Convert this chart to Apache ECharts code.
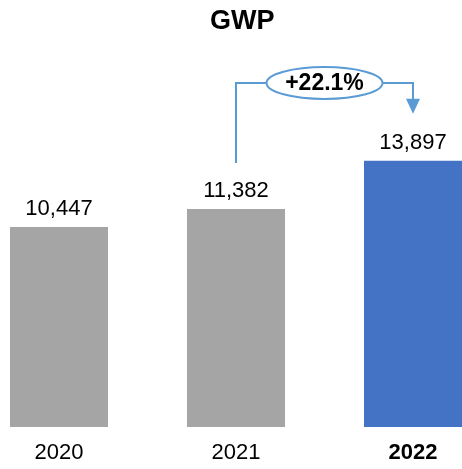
<!DOCTYPE html>
<html>
<head>
<meta charset="utf-8">
<script src="https://cdn.jsdelivr.net/npm/echarts@6/dist/echarts.min.js"></script>
<style>
  html, body { margin: 0; padding: 0; background: #fff; }
  #chart { width: 462px; height: 469px; }
</style>
</head>
<body>
<div id="chart"></div>
<script>
// 데이터
const years = ['2020', '2021', '2022'];
const gwp = [10447, 11382, 13897];
const barColors = ['#A5A5A5', '#A5A5A5', '#4472C4'];
const growthLabel = '+22.1%';

const FONT = '"Liberation Sans", Arial, sans-serif';
const LINE = '#5B9BD5';

const chart = echarts.init(document.getElementById('chart'));

const option = {
    animation: false,
    title: {
        text: 'GWP',
        left: 205,
        top: 3,
        textStyle: { fontFamily: FONT, fontSize: 27, fontWeight: 'bold', color: '#000' }
    },
    grid: { left: -29.5, right: -39.5, top: 44, bottom: 42, outerBoundsMode: 'none', containLabel: false },
    xAxis: {
        type: 'category',
        data: years,
        axisLine: { show: false },
        axisTick: { show: false },
        axisLabel: {
            margin: 15,
            fontFamily: FONT,
            fontSize: 22,
            color: '#000',
            formatter: (v) => v === '2022' ? '{b|' + v + '}' : v,
            rich: { b: { fontFamily: FONT, fontSize: 22, fontWeight: 'bold', color: '#000' } }
        }
    },
    yAxis: {
        type: 'value',
        min: 0,
        max: 20000,
        show: false,
        splitLine: { show: false }
    },
    series: [{
        type: 'bar',
        barWidth: 98,
        data: gwp.map((v, i) => ({ value: v, itemStyle: { color: barColors[i] } })),
        label: {
            show: true,
            position: 'top',
            distance: 7,
            fontFamily: FONT,
            fontSize: 22,
            color: '#000',
            formatter: (p) => p.value.toLocaleString('en-US')
        }
    }]
};

chart.setOption(option);

// 성장률 주석 (2021 -> 2022)
function drawAnnotation() {
    const from = chart.convertToPixel({ seriesIndex: 0 }, [1, gwp[1]]);
    const to = chart.convertToPixel({ seriesIndex: 0 }, [2, gwp[2]]);
    const topY = 83;
    const startY = from[1] - 46;
    const tipY = to[1] - 47;
    const midX = (from[0] + to[0]) / 2;
    const rx = 58, ry = 16;

    chart.setOption({
        graphic: [
            {
                type: 'polyline',
                shape: { points: [[from[0], startY], [from[0], topY], [midX - rx, topY]] },
                style: { stroke: LINE, lineWidth: 2, fill: null }
            },
            {
                type: 'polyline',
                shape: { points: [[midX + rx, topY], [to[0], topY], [to[0], tipY - 14]] },
                style: { stroke: LINE, lineWidth: 2, fill: null }
            },
            {
                type: 'polygon',
                shape: { points: [[to[0] - 7, tipY - 15], [to[0] + 7, tipY - 15], [to[0], tipY]] },
                style: { fill: LINE }
            },
            {
                type: 'ellipse',
                shape: { cx: midX, cy: topY, rx: rx, ry: ry },
                style: { stroke: LINE, lineWidth: 2, fill: '#fff' }
            },
            {
                type: 'text',
                x: midX,
                y: topY + 1,
                style: {
                    text: growthLabel,
                    align: 'center',
                    verticalAlign: 'middle',
                    font: 'bold 23px ' + FONT,
                    fill: '#000'
                }
            }
        ]
    });
}

drawAnnotation();
window.addEventListener('resize', () => { chart.resize(); drawAnnotation(); });
</script>
</body>
</html>
